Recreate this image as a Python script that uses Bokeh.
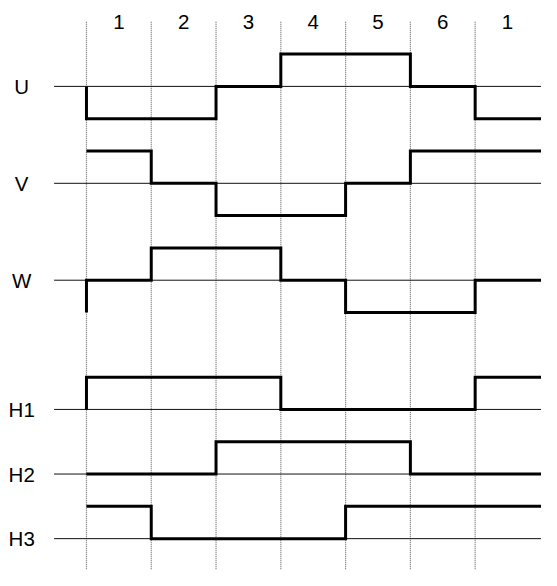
from bokeh.plotting import figure
from bokeh.models import Range1d
from bokeh.embed import file_html
from bokeh.resources import INLINE
from bokeh.core.properties import value

# ---- data ----
phases = ["1", "2", "3", "4", "5", "6", "1"]
signal_names = ["U", "V", "W", "H1", "H2", "H3"]
row_offsets = [0, -3, -6, -10, -12, -14]
U = [-1, -1, 0, 1, 1, 0, -1]
V = [1, 0, -1, -1, 0, 1, 1]
W = [0, 1, 1, 0, -1, -1, 0]
H1 = [1, 1, 1, 0, 0, 0, 1]
H2 = [0, 0, 1, 1, 1, 0, 0]
H3 = [1, 0, 0, 0, 1, 1, 1]
signals = [U, V, W, H1, H2, H3]

FONT = "Liberation Sans"

p = figure(width=541, height=570, output_backend="svg", toolbar_location=None,
           x_range=Range1d(-1.327, 7.024), y_range=Range1d(-14.986, 2.659),
           min_border=0)
p.axis.visible = False
p.grid.visible = False
p.outline_line_color = None
p.background_fill_color = "white"
p.border_fill_color = "white"

n = len(phases)
# dotted phase boundaries
for i in range(n):
    p.line([i, i], [2.0, -16], line_color="#6e6e6e", line_width=1.2, line_dash="1 1")

# column labels
p.text(x=[i + 0.5 for i in range(n)], y=[2.0] * n, text=phases,
       text_font=value(FONT), text_font_size="20.5px", text_align="center",
       text_baseline="middle", text_color="black")

# baselines and row labels
for name, off in zip(signal_names, row_offsets):
    p.line([-0.5, 8], [off, off], line_color="#111111", line_width=1)
p.text(x=[-1.0] * len(signal_names), y=row_offsets, text=signal_names,
       text_font=value(FONT), text_font_size="20.5px", text_align="center",
       text_baseline="middle", text_color="black")

# step signals
for sig, off in zip(signals, row_offsets):
    xs = [0]
    ys = [sig[-2] + off]  # value of previous phase (6)
    for i, v in enumerate(sig):
        xs += [i, i + 1]
        ys += [v + off, v + off]
    xs[-1] = 8
    p.line(xs, ys, line_color="black", line_width=3, line_join="miter")

open("out.html", "w").write(file_html(p, INLINE))
